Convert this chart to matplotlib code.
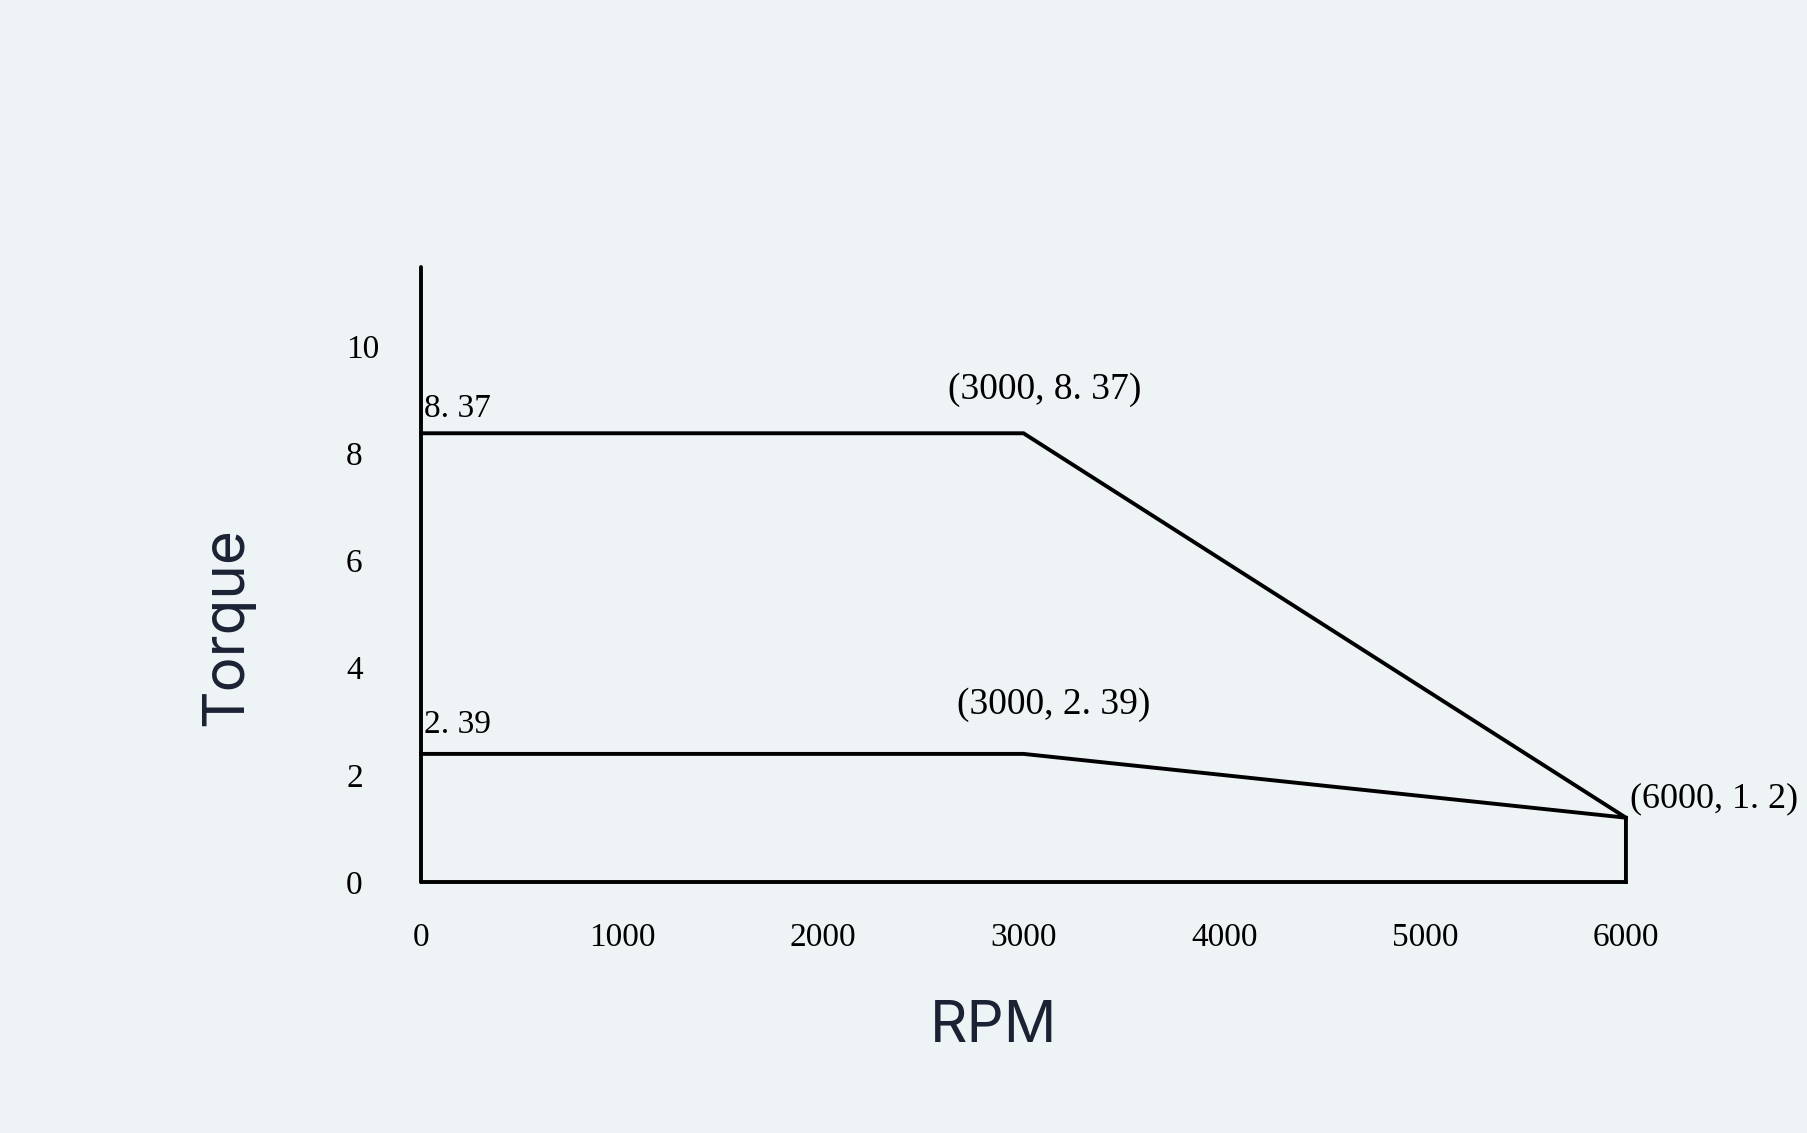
import matplotlib.pyplot as plt

# torque curve (upper = peak, lower = rated)
rpm_peak = [0, 3000, 6000, 6000]
torque_peak = [8.37, 8.37, 1.2, 0]
rpm_rated = [0, 3000, 6000]
torque_rated = [2.39, 2.39, 1.2]

xticks = [0, 1000, 2000, 3000, 4000, 5000, 6000]
yticks = [0, 2, 4, 6, 8, 10]

bg = '#eef3f6'
serif = 'Liberation Serif'

fig = plt.figure(figsize=(18.08, 11.33), dpi=100, facecolor=bg)
ax = fig.add_axes([0.2329, 0.2215, 0.6664, 0.5428], facecolor=bg)

ax.plot(rpm_peak, torque_peak, color='black', lw=2.8, solid_joinstyle='miter', clip_on=False)
ax.plot(rpm_rated, torque_rated, color='black', lw=2.8, clip_on=False)

ax.set_xlim(0, 6000)
ax.set_ylim(0, 11.47)

for s in ['top', 'right']:
    ax.spines[s].set_visible(False)
for s in ['left', 'bottom']:
    ax.spines[s].set_linewidth(2.8)
    ax.spines[s].set_color('black')
    ax.spines[s].set_capstyle('round')

ax.set_xticks(xticks)
ax.set_yticks(yticks)
ax.set_xticklabels([str(v) for v in xticks], fontsize=24, family=serif)
ax.set_yticklabels([str(v) for v in yticks], fontsize=24, family=serif, ha='left')
ax.tick_params(axis='x', length=0, pad=29)
ax.tick_params(axis='y', length=0, pad=54)

# value labels
ax.annotate('8. 37', (0, torque_peak[0]), xytext=(2, 7), textcoords='offset points',
            ha='left', va='bottom', fontsize=24, family=serif)
ax.annotate('2. 39', (0, torque_rated[0]), xytext=(2, 10), textcoords='offset points',
            ha='left', va='bottom', fontsize=24, family=serif)
ax.annotate('(3000, 8. 37)', (rpm_peak[1], torque_peak[1]), xytext=(15, 19), textcoords='offset points',
            ha='center', va='bottom', fontsize=27, family=serif)
ax.annotate('(3000, 2. 39)', (rpm_rated[1], torque_rated[1]), xytext=(22, 23), textcoords='offset points',
            ha='center', va='bottom', fontsize=27, family=serif)
ax.annotate('(6000, 1. 2)', (rpm_rated[2], torque_rated[2]), xytext=(3, 2), textcoords='offset points',
            ha='left', va='bottom', fontsize=26, family=serif)

ax.set_xlabel('RPM', fontsize=42, family='Inter', color='#1b2233')
ax.set_ylabel('Torque', fontsize=42, family='Inter', color='#1b2233')
ax.xaxis.set_label_coords(0.4755, -0.236)
ax.yaxis.set_label_coords(-0.161, 0.415)
ax.xaxis.label.set_va('center')
ax.yaxis.label.set_va('center')

fig.savefig('out.png', dpi=100, facecolor=bg)
